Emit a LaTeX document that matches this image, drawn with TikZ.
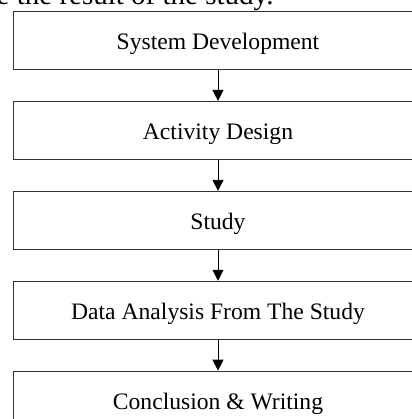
\documentclass[tikz,border=0pt]{standalone}
\usepackage{fontspec}
\setmainfont{Liberation Serif}
\usepackage{tikz}
\usetikzlibrary{arrows.meta,positioning}
\tikzset{
    box/.style={draw=black!80,line width=0.9pt,minimum width=410pt,minimum height=58pt,inner sep=0pt,
        text height=18pt,text depth=0pt,font=\fontsize{23.6}{28}\selectfont},
    arrow/.style={-{Triangle[length=11pt,width=11pt]},line width=0.9pt}
}

\begin{document}
\begin{tikzpicture}[x=1pt,y=-1pt,node distance=31pt]
    \useasboundingbox (0,0) rectangle (411,419);
    \node[anchor=base east,font=\fontsize{29}{34}\selectfont] (lead) at (277,5) {e the result of the study.};
    \node[box] (sys) at (218,40.5) {System Development};
    \node[box,below=of sys] (act) {Activity Design};
    \node[box,below=of act] (study) {Study};
    \node[box,below=of study] (ana) {Data Analysis From The Study};
    \node[box,below=of ana] (concl) {Conclusion \& Writing};
    \draw[arrow] (sys) -- (act);
    \draw[arrow] (act) -- (study);
    \draw[arrow] (study) -- (ana);
    \draw[arrow] (ana) -- (concl);
\end{tikzpicture}
\end{document}
